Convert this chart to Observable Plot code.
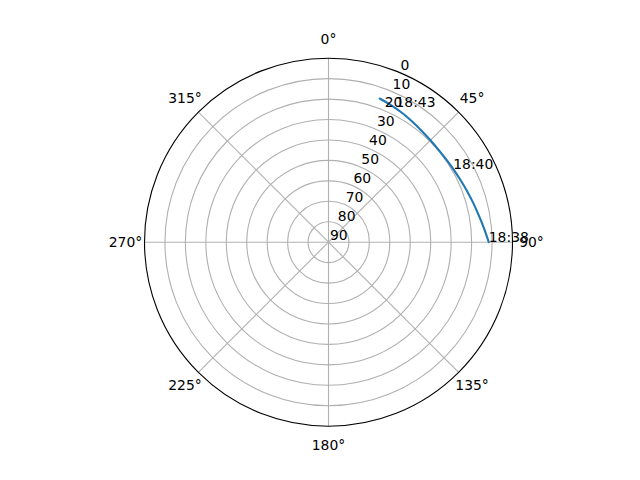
<!DOCTYPE html>
<html>
<head>
<meta charset="utf-8">
<script src="https://cdn.jsdelivr.net/npm/d3@7"></script>
<script src="https://cdn.jsdelivr.net/npm/@observablehq/plot@0.6"></script>
<style>
  html, body { margin: 0; padding: 0; background: #fff; }
</style>
</head>
<body>
<script>
// Pass track: azimuth (deg, clockwise from north) and elevation (deg)
const azimuth   = [90, 85, 80, 75, 70, 65, 60, 55, 50, 45, 40, 35, 30, 25, 19.6];
const elevation = [11.6, 13.6, 15.3, 16.6, 17.7, 18.6, 19.2, 19.6, 19.7, 19.5, 19.0, 18.2, 17.3, 16.4, 15.4];

// Time annotations
const timeLabels = ["18:38", "18:40", "18:43"];
const timeAz     = [90, 59.5, 26.4];
const timeEl     = [11.6, 19.2, 16.3];

// Axis ticks
const angleTicks  = [0, 45, 90, 135, 180, 225, 270, 315];
const angleLabels = ["0°", "45°", "90°", "135°", "180°", "225°", "270°", "315°"];
const radialTicks = [0, 10, 20, 30, 40, 50, 60, 70, 80, 90];

// Layout constants (pixels)
const W = 640, H = 480;
const cx = 328, cy = 241.7, R = 184;
const s = R / 90;                 // pixels per degree of zenith distance
const thetaPad = 19 / s;          // angular labels sit 19px outside the rim
const rLabelAz = 22.5;
const font = "DejaVu Sans, sans-serif";
const fs = 13.9;

const rad = a => a * Math.PI / 180;
const px = (az, el) => (90 - el) * Math.sin(rad(az));
const py = (az, el) => (90 - el) * Math.cos(rad(az));

const track  = azimuth.map((a, i) => ({az: a, el: elevation[i]}));
const times  = timeLabels.map((t, i) => ({t, az: timeAz[i], el: timeEl[i]}));
const thetas = angleTicks.map((a, i) => ({a, label: angleLabels[i]}));

const chart = Plot.plot({
  width: W,
  height: H,
  margin: 0,
  style: {fontFamily: font, fontSize: fs + "px", background: "#fff"},
  x: {domain: [-cx / s, (W - cx) / s], axis: null},
  y: {domain: [-(H - cy) / s, cy / s], axis: null},
  r: {type: "linear", domain: [0, 90], range: [0, R]},
  marks: [
    // radial grid rings
    Plot.dot(radialTicks.filter(e => e > 0 && e < 90), {
      x: 0, y: 0, r: e => 90 - e,
      stroke: "#b0b0b0", strokeWidth: 1.1, fill: "none"
    }),
    // angular grid spokes
    Plot.link(angleTicks, {
      x1: 0, y1: 0,
      x2: a => px(a, 0), y2: a => py(a, 0),
      stroke: "#b0b0b0", strokeWidth: 1.1
    }),
    // pass track
    Plot.line(track, {
      x: d => px(d.az, d.el), y: d => py(d.az, d.el),
      stroke: "#1f77b4", strokeWidth: 2.1,
      curve: "catmull-rom"
    }),
    // outer spine
    Plot.dot([0], {
      x: 0, y: 0, r: () => 90,
      stroke: "#000", strokeWidth: 1.1, fill: "none"
    }),
    // radial tick labels
    Plot.text(radialTicks, {
      x: e => px(rLabelAz, e), y: e => py(rLabelAz, e),
      text: e => String(e),
      textAnchor: "start", lineAnchor: "bottom",
      dx: 1.5, dy: -2.5,
      fontSize: fs, fill: "#000"
    }),
    // angular tick labels
    Plot.text(thetas, {
      x: d => px(d.a, -thetaPad), y: d => py(d.a, -thetaPad),
      text: "label",
      textAnchor: "middle", lineAnchor: "middle",
      fontSize: fs, fill: "#000"
    }),
    // time annotations
    Plot.text(times, {
      x: d => px(d.az, d.el), y: d => py(d.az, d.el),
      text: "t",
      textAnchor: "start", lineAnchor: "bottom",
      fontSize: fs, fill: "#000"
    })
  ]
});
document.body.appendChild(chart);
</script>
</body>
</html>
